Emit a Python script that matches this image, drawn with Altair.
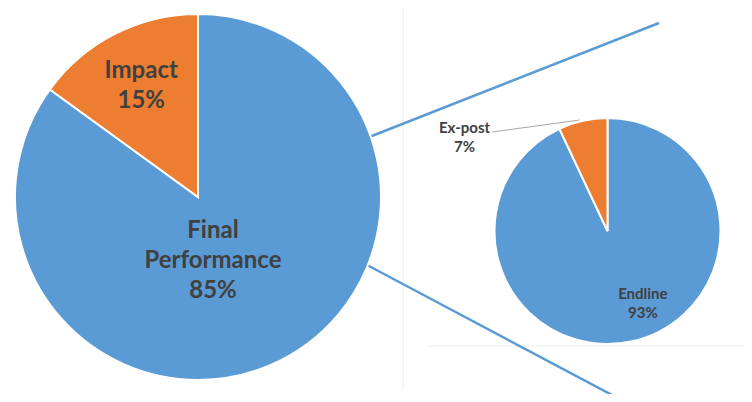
import altair as alt
import pandas as pd

# ---- data ----
main_categories = ["Final Performance", "Impact"]
main_values = [85, 15]
detail_categories = ["Endline", "Ex-post"]
detail_values = [93, 7]

all_categories = main_categories + detail_categories
slice_colors = ["#5B9BD5", "#ED7D31", "#5B9BD5", "#ED7D31"]

# ---- layout (chart pixel coordinates, styling only) ----
W, H = 736, 386
BIG = dict(cx=190, cy=189, r=183)
SMALL = dict(cx=599.5, cy=223, r=113)
TEXT_COLOR = "#404040"
FONT = "Lato"

main_df = pd.DataFrame({"category": main_categories, "value": main_values,
                        "idx": range(len(main_values))})
detail_df = pd.DataFrame({"category": detail_categories, "value": detail_values,
                          "idx": range(len(detail_values))})

color_scale = alt.Scale(domain=all_categories, range=slice_colors)


def pie(df, geo):
    base = alt.Chart(df).transform_calculate(
        label="replace(datum.category, ' ', '\\n') + '\\n' + datum.value + '%'"
    )
    return base, base.mark_arc(outerRadius=geo["r"], stroke="white", strokeWidth=2).encode(
        theta=alt.Theta("value:Q", stack=True),
        order=alt.Order("idx:Q", sort="ascending"),
        color=alt.Color("category:N", scale=color_scale, legend=None),
        x=alt.value(geo["cx"]),
        y=alt.value(geo["cy"]),
    )


def label(base, geo, cat, radius, dx, dy, size, lh):
    return base.mark_text(
        radius=radius, dx=dx, dy=dy, font=FONT, fontSize=size, fontWeight="bold",
        color=TEXT_COLOR, lineBreak="\n", lineHeight=lh, align="center", baseline="middle",
    ).encode(
        theta=alt.Theta("value:Q", stack=True),
        order=alt.Order("idx:Q", sort="ascending"),
        x=alt.value(geo["cx"]),
        y=alt.value(geo["cy"]),
        text=alt.condition(alt.datum.category == cat, alt.Text("label:N"), alt.value("")),
    )


main_base, main_pie = pie(main_df, BIG)
detail_base, detail_pie = pie(detail_df, SMALL)

main_labels = [
    label(main_base, BIG, "Final Performance", 66, -15, -25, 24, 30),
    label(main_base, BIG, "Impact", 125, 0, -15, 24, 30),
]
detail_labels = [
    label(detail_base, SMALL, "Endline", 75, 19, -10, 15, 19),
    label(detail_base, SMALL, "Ex-post", 96, -122, -9, 15, 19),
]

anchor = pd.DataFrame({"a": [0]})


def line(x1, y1, x2, y2, color, width):
    return alt.Chart(anchor).mark_rule(color=color, strokeWidth=width).encode(
        x=alt.value(x1), y=alt.value(y1), x2=alt.value(x2), y2=alt.value(y2)
    )


decor = [
    line(395, 0, 395, 382, "#EDEDED", 1),
    line(419, 338, 736, 338, "#EDEDED", 1),
    line(360, 129.5, 651, 15, "#5B9BD5", 2.5),
    line(360, 257.5, 621, 396, "#5B9BD5", 2.5),
    line(484, 124, 572, 112, "#A6A6A6", 1),
]

chart = alt.layer(
    *decor, main_pie, detail_pie, *main_labels, *detail_labels
).resolve_scale(theta="independent").properties(
    width=W, height=H, padding=0, autosize=alt.AutoSizeParams(type="none"),
    background="white",
).configure_view(stroke=None)

chart.save("out.html", embed_options={"renderer": "svg", "actions": False})
